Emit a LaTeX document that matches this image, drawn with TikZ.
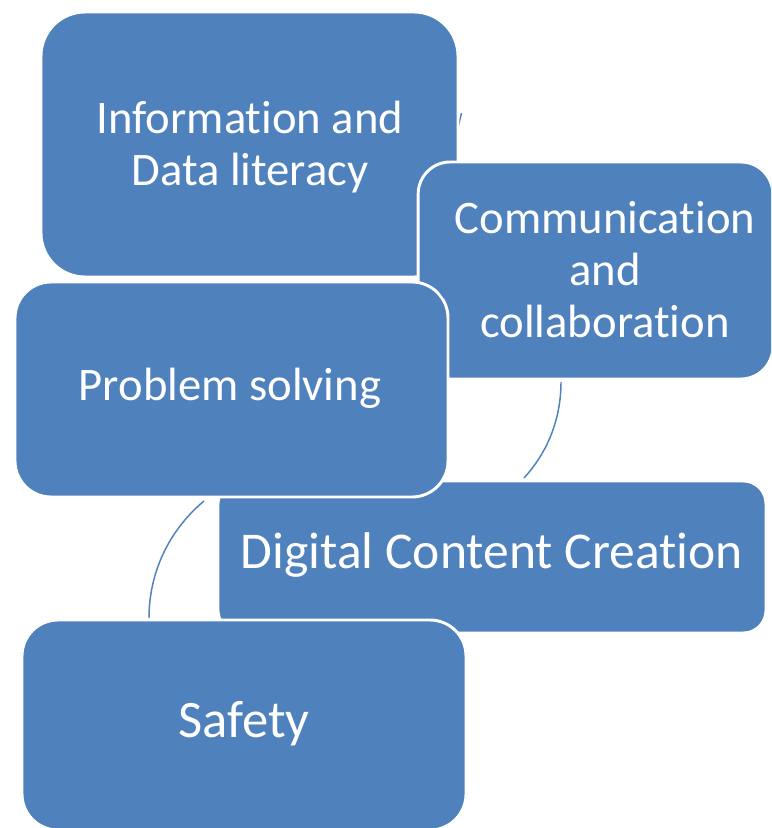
\documentclass[tikz,border=0pt]{standalone}
\usepackage{fontspec}
\setmainfont{Carlito}[Ligatures=NoCommon]
\definecolor{boxblue}{HTML}{4F81BD}
\begin{document}
\begin{tikzpicture}[x=0.75pt,y=-0.75pt,
  box/.style={fill=boxblue, draw=white, line width=2.2pt, inner sep=0pt},
  lbl/.style={text=white, align=center, font=\fontsize{35}{39}\selectfont, inner sep=0pt},
  biglbl/.style={lbl, font=\fontsize{39.5}{44}\selectfont},
  arcline/.style={draw=boxblue, line width=1.1pt}]
\useasboundingbox (0,0) rectangle (771,828);
\clip (0,0) rectangle (771,828);
% connectors (behind boxes)
\coordinate (a1) at (461.5,113);
\coordinate (a2) at (458,127);
\coordinate (b1) at (561,382);
\coordinate (b2) at (524,478);
\coordinate (d1) at (204,501);
\coordinate (d2) at (149,618);
\draw[arcline] (a1) .. controls (460.5,117) and (459.5,122) .. (a2);
\draw[arcline] (b1) .. controls (561,418.7) and (547.9,451.8) .. (b2);
\draw[arcline] (d1) .. controls (169.2,530.1) and (149,572.2) .. (d2);
% boxes
\node[box, rounded corners=33pt, minimum width=312.75pt, minimum height=198.75pt] (info) at (249.5,144.5) {};
\node[box, rounded corners=24pt, minimum width=266pt, minimum height=162.75pt] (comm) at (595.5,270.5) {};
\node[box, rounded corners=17pt, minimum width=411pt, minimum height=114pt] (dig) at (492,557) {};
\node[box, rounded corners=27pt, minimum width=324.75pt, minimum height=161.25pt] (prob) at (231.5,389.5) {};
\coordinate (p1) at (440,292);
\coordinate (p2) at (444.5,298);
\draw[arcline] (p1) -- (p2);
\node[box, rounded corners=27pt, minimum width=333pt, minimum height=157.5pt] (safe) at (244,725) {};
% labels
\node[lbl] (infot) at (250,147) {Information and\\Data literacy};
\node[lbl] (commt) at (605,270) {Communication\\and\\collaboration};
\node[lbl] (probt) at (230,388) {Problem solving};
\node[biglbl, font=\fontsize{38.7}{44}\selectfont] (digt) at (492,555) {Digital Content Creation};
\node[biglbl] (safet) at (244,724) {Safety};
\end{tikzpicture}
\end{document}
